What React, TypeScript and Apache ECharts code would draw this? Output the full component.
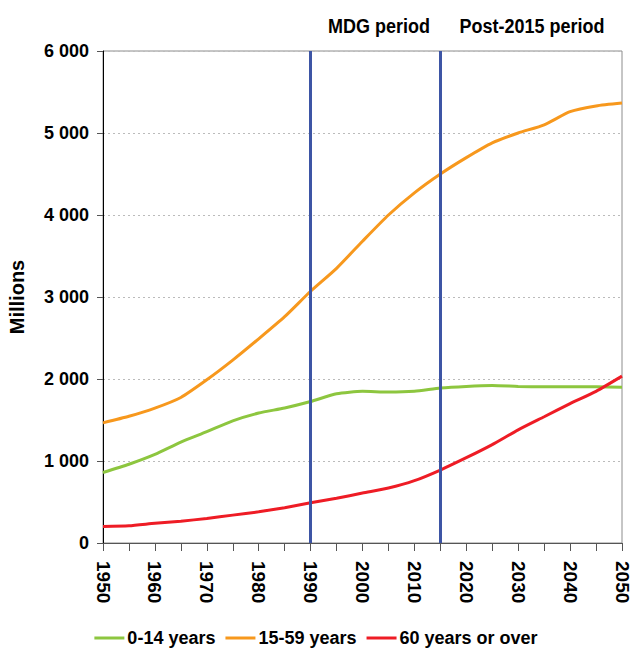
import React, { useEffect, useRef } from "react";
import * as echarts from "echarts";

const years = [1950, 1955, 1960, 1965, 1970, 1975, 1980, 1985, 1990, 1995, 2000, 2005, 2010, 2015, 2020, 2025, 2030, 2035, 2040, 2045, 2050];
const age0to14 = [860, 960, 1080, 1230, 1357, 1490, 1585, 1646, 1725, 1820, 1850, 1840, 1850, 1890, 1910, 1920, 1910, 1905, 1905, 1905, 1900];
const age15to59 = [1465, 1545, 1645, 1775, 1990, 2230, 2490, 2760, 3070, 3350, 3680, 4000, 4270, 4500, 4700, 4880, 5000, 5100, 5260, 5330, 5365];
const age60plus = [200, 210, 240, 265, 300, 340, 380, 430, 490, 545, 610, 670, 760, 890, 1040, 1200, 1380, 1540, 1700, 1850, 2035];
const periodLines = [1990, 2015];
const periodLabels = ["MDG period", "Post-2015 period"];
const seriesNames = ["0-14 years", "15-59 years", "60 years or over"];

const FONT = "'Liberation Sans', Arial, sans-serif";

export default function App() {
  const ref = useRef<HTMLDivElement>(null);
  useEffect(() => {
    if (!ref.current) return;
    const chart = echarts.init(ref.current, null, { renderer: "svg" });
    const pair = (vals: number[]) => years.map((y, i) => [y, vals[i]]);
    const mk = (name: string, vals: number[], color: string, extra: any = {}) => ({
      name,
      type: "line",
      data: pair(vals),
      symbol: "none",
      smooth: 0.2,
      lineStyle: { color, width: 3 },
      itemStyle: { color },
      ...extra,
    });
    chart.setOption({
      animation: false,
      grid: { left: 103, right: 10, top: 51, bottom: 106, show: true, borderColor: "#8c8c8c", borderWidth: 1, outerBoundsMode: "none", containLabel: false },
      xAxis: {
        type: "value",
        min: 1950,
        max: 2050,
        interval: 5,
        axisLine: { show: true, lineStyle: { color: "#555", width: 1 } },
        axisTick: { show: true, length: 8, lineStyle: { color: "#555" } },
        splitLine: { show: false },
        axisLabel: {
          rotate: -90,
          margin: 18,
          color: "#000",
          fontWeight: "bold",
          fontSize: 19,
          fontFamily: FONT,
          showMaxLabel: true,
          formatter: (v: number) => (v % 10 === 0 ? String(v) : ""),
        },
      },
      yAxis: {
        type: "value",
        min: 0,
        max: 6000,
        interval: 1000,
        name: "Millions",
        nameLocation: "middle",
        nameGap: 76,
        nameRotate: 90,
        nameTextStyle: { fontWeight: "bold", fontSize: 20, fontFamily: FONT, color: "#000" },
        axisLine: { show: true, lineStyle: { color: "#000", width: 1 } },
        axisTick: { show: true, length: 6, lineStyle: { color: "#555" } },
        splitLine: { show: true, lineStyle: { color: "#bbb", type: [2, 3], width: 1 } },
        axisLabel: {
          margin: 14,
          color: "#000",
          fontWeight: "bold",
          fontSize: 18,
          fontFamily: FONT,
          formatter: (v: number) => (v >= 1000 ? Math.floor(v / 1000) + " " + String(v % 1000).padStart(3, "0") : String(v)),
        },
      },
      legend: {
        left: "center",
        top: 624,
        icon: "rect",
        itemWidth: 30,
        itemHeight: 3,
        itemGap: 10,
        textStyle: { fontWeight: "bold", fontSize: 18, fontFamily: FONT, color: "#000", padding: [0, 0, 0, -2] },
        data: seriesNames,
      },
      graphic: [
        { type: "text", x: 379, y: 26, scaleY: 1.15, style: { text: periodLabels[0], fontSize: 18, fontWeight: "bold", fontFamily: FONT, fill: "#000", align: "center", verticalAlign: "middle" } },
        { type: "text", x: 532, y: 26, scaleY: 1.15, style: { text: periodLabels[1], fontSize: 18, fontWeight: "bold", fontFamily: FONT, fill: "#000", align: "center", verticalAlign: "middle" } },
      ],
      series: [
        mk(seriesNames[0], age0to14, "#8dc63f"),
        mk(seriesNames[1], age15to59, "#f7981d"),
        mk(seriesNames[2], age60plus, "#ee1c25", {
          markLine: {
            silent: true,
            symbol: ["none", "none"],
            label: { show: false },
            lineStyle: { color: "#3d55a5", width: 3, type: "solid" },
            data: periodLines.map((y) => ({ xAxis: y })),
            z: 10,
          },
        }),
      ],
    });
    return () => chart.dispose();
  }, []);
  return <div ref={ref} style={{ width: 632, height: 649, position: "absolute", left: 0, top: 0 }} />;
}
